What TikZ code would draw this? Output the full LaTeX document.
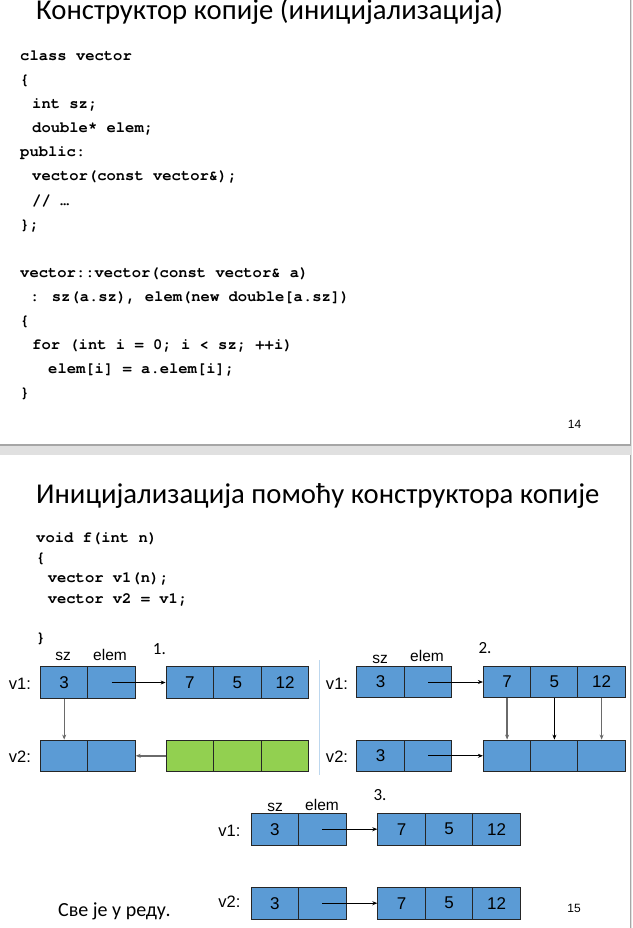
\documentclass[tikz,border=0pt]{standalone}
\usepackage{fontspec}
\setmainfont{Carlito}
\newfontfamily\codefont{TeX Gyre Cursor}
\newfontfamily\arialfont{Liberation Sans}
\usetikzlibrary{arrows.meta}

\definecolor{cellblue}{HTML}{5B9BD5}
\definecolor{cellgreen}{HTML}{92D050}
\definecolor{sepblue}{HTML}{BDD7EE}
\definecolor{bandgray}{HTML}{E0E0E0}
\definecolor{edgegray}{HTML}{A6A6A6}
\definecolor{arrgray}{HTML}{6A6A6A}

\begin{document}
\begin{tikzpicture}[x=1pt, y=-1pt]

	\tikzstyle{title}=[anchor=base west, inner sep=0, font=\fontsize{28.7}{34}\selectfont]
	\tikzstyle{code}=[anchor=base west, inner sep=0, font=\codefont\bfseries\fontsize{15.5}{18}\selectfont]
	\tikzstyle{cell}=[draw=black!85, fill=cellblue, line width=0.8, minimum width=47.6, minimum height=31.6, inner sep=0, font=\arialfont\fontsize{17}{19}\selectfont]
	\tikzstyle{gcell}=[cell, fill=cellgreen]
	\tikzstyle{lbl}=[inner sep=0, font=\arialfont\fontsize{16.5}{19}\selectfont]
	\tikzstyle{head}=[anchor=base, inner sep=0, font=\arialfont\fontsize{15.5}{18}\selectfont]
	\tikzstyle{step1}=[anchor=base west, inner sep=0, font=\fontsize{17}{20}\selectfont]
	\tikzstyle{pg}=[inner sep=0, font=\arialfont\fontsize{12}{14}\selectfont]
	\tikzstyle{arrow1}=[-{Stealth[length=5pt, width=4pt]}, line width=0.7, black]
	\tikzstyle{arrow2}=[-{Stealth[length=5pt, width=4pt]}, line width=1.4, arrgray]

	\useasboundingbox (0,0) rectangle (632,928);
	\fill [bandgray] (0,0) rectangle (632,928);
	\fill [white] (0,0) rectangle (630,444.5);
	\fill [white] (0,455) rectangle (630,928);
	\draw [edgegray, line width=1.5] (0,445.2) -- (630.7,445.2) -- (630.7,0);
	\draw [edgegray, line width=1.5] (630.7,455) -- (630.7,928);

	% slide 14
	\node [title] (t1) at (36,20) {Конструктор копије (иницијализација)};
	\node [code] (c1) at (20,61) {class vector};
	\node [code] (c2) at (20,85) {\{};
	\node [code] (c3) at (32,109) {int sz;};
	\node [code] (c4) at (32,133) {double* elem;};
	\node [code] (c5) at (20,157) {public:};
	\node [code] (c6) at (32,181) {vector(const vector\&);};
	\node [code] (c7) at (32,205) {// …};
	\node [code] (c8) at (20,229) {\};};
	\node [code] (c9) at (20,277) {vector::vector(const vector\& a)};
	\node [code] (c10) at (30,301) {: sz(a.sz), elem(new double[a.sz])};
	\node [code] (c11) at (20,325) {\{};
	\node [code] (c12) at (32,349) {for (int i = 0; i < sz; ++i)};
	\node [code] (c13) at (48,373) {elem[i] = a.elem[i];};
	\node [code] (c14) at (20,397) {\}};
	\node [pg] (n14) at (574.5,424.7) {14};

	% slide 15
	\node [title] (t2) at (36,503.5) {Иницијализација помоћу конструктора копије};
	\node [code] (d1) at (36,542) {void f(int n)};
	\node [code] (d2) at (36,562) {\{};
	\node [code] (d3) at (47.6,582) {vector v1(n);};
	\node [code] (d4) at (47.6,603) {vector v2 = v1;};
	\node [code] (d5) at (36,642) {\}};

	% 1.
	\node [step1] (k1) at (152.7,654) {1.};
	\node [head] (h1s) at (63,660.7) {sz};
	\node [head] (h1e) at (110,660.7) {elem};
	\node [lbl] (l1v1) at (20,684) {v1:};
	\node [lbl] (l1v2) at (20,757) {v2:};
	\node [cell] (p1s1) at (64.2,682.5) {3};
	\node [cell] (p1e1) at (111.5,682.5) {};
	\node [cell] (p1a1) at (189.8,682.5) {7};
	\node [cell] (p1b1) at (237.4,682.5) {5};
	\node [cell] (p1c1) at (285.0,682.5) {12};
	\node [cell] (p1s2) at (64.2,755.8) {};
	\node [cell] (p1e2) at (111.5,755.8) {};
	\node [gcell] (p1a2) at (189.8,755.8) {};
	\node [gcell] (p1b2) at (237.4,755.8) {};
	\node [gcell] (p1c2) at (285.0,755.8) {};
	\draw [arrow1] (p1e1.center) -- (p1a1.west);
	\draw [arrow2] (p1s1.south) -- (p1s2.north);
	\draw [arrow2] (p1a2.west) -- (p1e2.east);

	\draw [sepblue, line width=1.2] (319.5,660) -- (319.5,775);

	% 2.
	\node [step1] (k2) at (478.3,653) {2.};
	\node [head] (h2s) at (380,663) {sz};
	\node [head] (h2e) at (427,661) {elem};
	\node [lbl] (l2v1) at (337,684) {v1:};
	\node [lbl] (l2v2) at (337,757) {v2:};
	\node [cell] (p2s1) at (380.5,682) {3};
	\node [cell] (p2e1) at (428,682) {};
	\node [cell] (p2a1) at (507.1,682) {7};
	\node [cell] (p2b1) at (554.4,682) {5};
	\node [cell] (p2c1) at (601.6,682) {12};
	\node [cell] (p2s2) at (380.5,755.8) {3};
	\node [cell] (p2e2) at (428,755.8) {};
	\node [cell] (p2a2) at (507.1,755.8) {};
	\node [cell] (p2b2) at (554.4,755.8) {};
	\node [cell] (p2c2) at (601.6,755.8) {};
	\draw [arrow1] (p2e1.center) -- (p2a1.west);
	\draw [arrow1] (p2e2.center) -- (p2a2.west);
	\draw [arrow2] (p2a1.south) -- (p2a2.north);
	\draw [arrow1] (p2b1.south) -- (p2b2.north);
	\draw [arrow2] (p2c1.south) -- (p2c2.north);

	% 3.
	\node [step1] (k3) at (373.3,800.7) {3.};
	\node [head] (h3s) at (275,811.5) {sz};
	\node [head] (h3e) at (322,810) {elem};
	\node [lbl] (l3v1) at (229.5,831) {v1:};
	\node [lbl] (l3v2) at (229.5,902) {v2:};
	\node [cell] (p3s1) at (274.8,829.2) {3};
	\node [cell] (p3e1) at (322.3,829.2) {};
	\node [cell] (p3a1) at (401.5,829.2) {7};
	\node [cell] (p3b1) at (449,829.2) {5};
	\node [cell] (p3c1) at (496.5,829.2) {12};
	\node [cell] (p3s2) at (274.8,903.2) {3};
	\node [cell] (p3e2) at (322.3,903.2) {};
	\node [cell] (p3a2) at (401.5,903.2) {7};
	\node [cell] (p3b2) at (449,903.2) {5};
	\node [cell] (p3c2) at (496.5,903.2) {12};
	\draw [arrow1] (p3e1.center) -- (p3a1.west);
	\draw [arrow1] (p3e2.center) -- (p3a2.west);

	\node [anchor=base west, inner sep=0, font=\fontsize{20}{24}\selectfont] (ok) at (58,916) {Све је у реду.};
	\node [pg] (n15) at (574,908.3) {15};

\end{tikzpicture}
\end{document}
